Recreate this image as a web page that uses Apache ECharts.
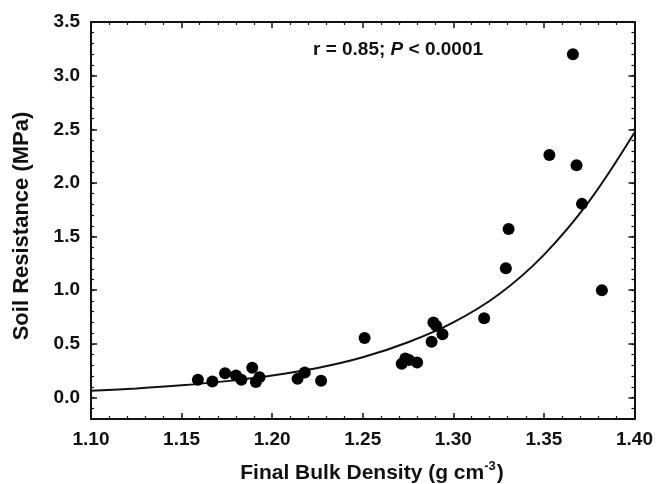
<!DOCTYPE html>
<html><head><meta charset="utf-8">
<script src="https://cdn.jsdelivr.net/npm/echarts@6/dist/echarts.min.js"></script>
<style>html,body{margin:0;padding:0;background:#fff}#c{width:656px;height:484px}</style>
</head><body><div id="c"></div>
<script>
// Observed data
const bulkDensity = [1.159, 1.167, 1.174, 1.180, 1.183, 1.189, 1.191, 1.193, 1.214, 1.218, 1.227,
  1.251, 1.2715, 1.2735, 1.2755, 1.280, 1.288, 1.289, 1.2905, 1.294, 1.317, 1.329, 1.3305,
  1.353, 1.366, 1.368, 1.371, 1.382];
const soilResistance = [0.165, 0.149, 0.227, 0.205, 0.165, 0.277, 0.144, 0.190, 0.174, 0.233, 0.156,
  0.554, 0.314, 0.365, 0.350, 0.326, 0.520, 0.700, 0.670, 0.590, 0.740, 1.206, 1.570,
  2.260, 3.200, 2.166, 1.805, 1.000];
// Fitted curve
const curveDensity = [1.10, 1.125, 1.15, 1.175, 1.20, 1.225, 1.25, 1.275, 1.30, 1.325, 1.35, 1.375, 1.40];
const curveResistance = [0.063, 0.085, 0.114, 0.153, 0.205, 0.275, 0.375, 0.515, 0.70, 0.96, 1.33, 1.83, 2.47];
const yMajorTicks = [0, 0.5, 1.0, 1.5, 2.0, 2.5, 3.0, 3.5];
const xTitle = 'Final Bulk Density (g cm';
const yTitle = 'Soil Resistance (MPa)';

const FONT = "'Liberation Sans', Arial, Helvetica, sans-serif";
const INK = '#111';
const grid = {left: 91, right: 19, top: 22, bottom: 65};

const scatterData = bulkDensity.map((x, i) => [x, soilResistance[i]]);
const curveData = curveDensity.map((x, i) => [x, curveResistance[i]]);

function xAxisCfg(pos, labels) {
  return {
    type: 'value', position: pos, min: 1.10, max: 1.40, interval: 0.05,
    axisLine: {show: true, onZero: false, lineStyle: {color: INK, width: 2}},
    axisTick: {show: true, inside: true, length: 6, lineStyle: {color: INK, width: 1.5}},
    minorTick: {show: true, splitNumber: 5, length: 3, lineStyle: {color: INK, width: 1.2}},
    splitLine: {show: false},
    axisLabel: {show: labels, margin: 11, fontFamily: FONT, fontWeight: 'bold', fontSize: 19, color: INK,
      formatter: v => v.toFixed(2)}
  };
}
function yMinorCfg(pos, labels) {
  return {
    type: 'value', position: pos, min: -0.2, max: 3.5, interval: 0.1,
    axisLine: {show: true, onZero: false, lineStyle: {color: INK, width: 2}},
    axisTick: {show: true, inside: true, length: 3, lineStyle: {color: INK, width: 1.2}},
    splitLine: {show: false},
    axisLabel: {show: labels, interval: 0, margin: 11, fontFamily: FONT, fontWeight: 'bold', fontSize: 19, color: INK,
      formatter: v => { const k = Math.round(v * 10); return (k >= 0 && k % 5 === 0) ? (k / 10).toFixed(1) : ''; }}
  };
}
function yMajorCfg(pos) {
  return {
    type: 'value', position: pos, min: -0.2, max: 3.5,
    axisLine: {show: false},
    axisTick: {show: true, inside: true, length: 6, customValues: yMajorTicks, lineStyle: {color: INK, width: 1.5}},
    splitLine: {show: false},
    axisLabel: {show: false}
  };
}

const chart = echarts.init(document.getElementById('c'), null, {renderer: 'canvas'});
chart.setOption({
  animation: false,
  backgroundColor: '#fff',
  grid: grid,
  xAxis: [xAxisCfg('bottom', true), xAxisCfg('top', false)],
  yAxis: [yMinorCfg('left', true), yMajorCfg('left'), yMinorCfg('right', false), yMajorCfg('right')],
  series: [
    {type: 'line', data: curveData, xAxisIndex: 0, yAxisIndex: 0, smooth: 0.35,
      showSymbol: false, lineStyle: {color: INK, width: 2}, z: 2},
    {type: 'scatter', data: scatterData, xAxisIndex: 0, yAxisIndex: 0, symbol: 'circle', symbolSize: 12,
      itemStyle: {color: '#000', opacity: 1}, z: 3}
  ],
  graphic: [
    {type: 'text', x: 398, y: 50, style: {
      text: '{n|r = 0.85; }{i|P}{n| < 0.0001}',
      align: 'center', verticalAlign: 'middle',
      rich: {
        n: {fontFamily: FONT, fontWeight: 'bold', fontSize: 19, fill: INK, color: INK},
        i: {fontFamily: FONT, fontWeight: 'bold', fontStyle: 'italic', fontSize: 19, fill: INK, color: INK}
      }}},
    {type: 'text', x: 372, y: 472, style: {
      text: '{t|' + xTitle + '}{s|-3}{t|)}',
      align: 'center', verticalAlign: 'middle',
      rich: {
        t: {fontFamily: FONT, fontWeight: 'bold', fontSize: 21, fill: INK, color: INK, verticalAlign: 'bottom', lineHeight: 24},
        s: {fontFamily: FONT, fontWeight: 'bold', fontSize: 13, fill: INK, color: INK, verticalAlign: 'top', lineHeight: 24, padding: [0, 1, 10, 0]}
      }}},
    {type: 'text', x: 22, y: 226, rotation: Math.PI / 2, style: {
      text: yTitle, align: 'center', verticalAlign: 'middle',
      font: "bold 22px 'Liberation Sans', Arial, sans-serif", fill: INK}}
  ]
});
</script>
</body></html>
